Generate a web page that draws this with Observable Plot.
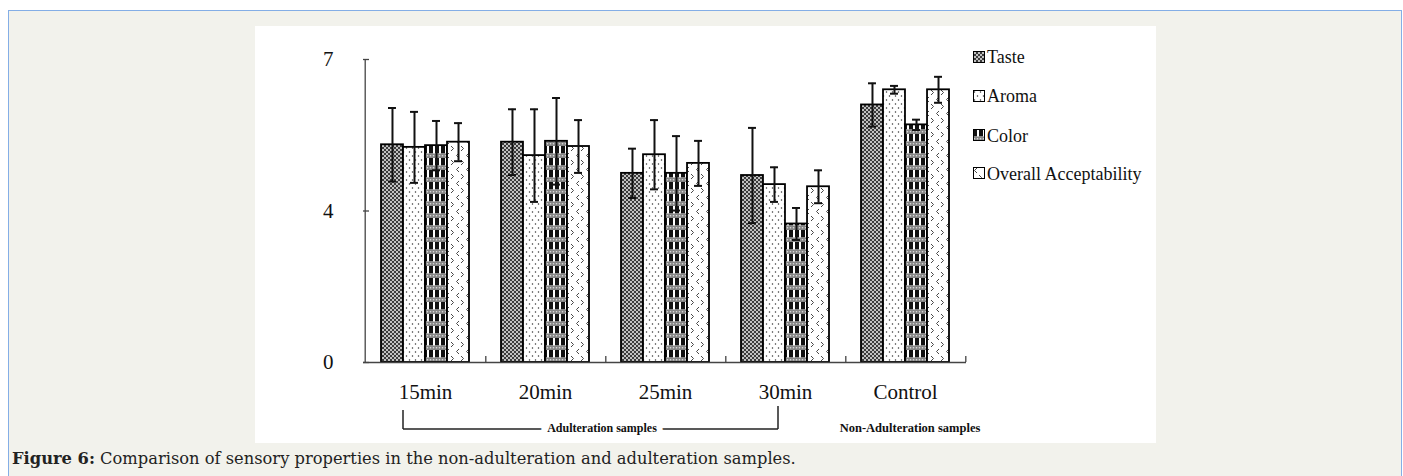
<!DOCTYPE html>
<html><head><meta charset="utf-8">
<script src="https://cdn.jsdelivr.net/npm/d3@7"></script>
<script src="https://cdn.jsdelivr.net/npm/@observablehq/plot@0.6"></script>
<style>
html,body{margin:0;padding:0;background:#fff;width:1403px;height:476px;overflow:hidden;}
#page{position:absolute;left:8px;top:10px;width:1392px;height:480px;background:#f2f2ec;border:1px solid #84aee6;border-bottom:none;}
#chart{position:absolute;left:255px;top:26px;width:901px;height:417px;background:#fff;}
#chart svg{display:block;}
#chart svg text{font-family:"Liberation Serif","Times New Roman",Times,serif;}
.leg{position:absolute;left:973px;font-family:"Liberation Serif","Times New Roman",Times,serif;font-size:18px;color:#111;line-height:20px;white-space:nowrap;}
.leg svg{vertical-align:middle;margin-right:2px;position:relative;top:-2px;}
#anno{position:absolute;left:0;top:0;}
#caption{position:absolute;left:12px;top:450px;font-family:"DejaVu Serif",serif;font-size:16.3px;color:#222;white-space:nowrap;line-height:18px;}
</style></head>
<body>
<div id="page"></div>
<svg width="0" height="0" style="position:absolute">
  <defs>
    <pattern id="pTaste" width="4" height="4" patternUnits="userSpaceOnUse">
      <rect width="4" height="4" fill="#202020"/>
      <circle cx="2" cy="2" r="1.2" fill="#c4c4c4"/>
      <circle cx="0" cy="0" r="1.2" fill="#c4c4c4"/><circle cx="4" cy="0" r="1.2" fill="#c4c4c4"/>
      <circle cx="0" cy="4" r="1.2" fill="#c4c4c4"/><circle cx="4" cy="4" r="1.2" fill="#c4c4c4"/>
    </pattern>
    <pattern id="pAroma" width="6" height="8" patternUnits="userSpaceOnUse">
      <rect width="6" height="8" fill="#fff"/>
      <circle cx="1.5" cy="2" r="0.75" fill="#333"/>
      <circle cx="4.5" cy="6" r="0.75" fill="#333"/>
    </pattern>
    <pattern id="pColor" width="6" height="12" patternUnits="userSpaceOnUse">
      <rect width="6" height="12" fill="#fff"/>
      <rect x="0" y="0" width="4" height="7.5" fill="#111"/>
      <rect x="0" y="7.5" width="6" height="4.5" fill="#858585"/>
      <circle cx="1.5" cy="9.75" r="0.8" fill="#ddd"/>
      <circle cx="4.5" cy="9.75" r="0.8" fill="#ddd"/>
    </pattern>
    <pattern id="pOverall" width="10" height="14" patternUnits="userSpaceOnUse">
      <rect width="10" height="14" fill="#fff"/>
      <path d="M4,1 L1.5,3.5 L4,6" stroke="#333" stroke-width="0.9" fill="none"/>
      <path d="M6,8 L8.5,10.5 L6,13" stroke="#333" stroke-width="0.9" fill="none"/>
    </pattern>
  </defs>
</svg>
<div id="chart"></div>
<div id="legend"></div>
<svg id="anno" width="1403" height="476">
  <line x1="403" y1="410" x2="403" y2="429" stroke="#222" stroke-width="1.5"/>
  <line x1="778" y1="406" x2="778" y2="429" stroke="#222" stroke-width="1.5"/>
  <line x1="403" y1="429" x2="778" y2="429" stroke="#222" stroke-width="1.5"/>
  <text x="602" y="432" text-anchor="middle" font-family="Liberation Serif" font-weight="bold" font-size="12" fill="#111" stroke="#fff" stroke-width="12" paint-order="stroke">Adulteration samples</text>
  <text x="910" y="432" text-anchor="middle" font-family="Liberation Serif" font-weight="bold" font-size="12.5" fill="#111">Non-Adulteration samples</text>
</svg>
<div id="caption"><b>Figure 6:</b> Comparison of sensory properties in the non-adulteration and adulteration samples.</div>
<script>
// ---- data ----
const categories = ["15min", "20min", "25min", "30min", "Control"];
const series = ["Taste", "Aroma", "Color", "Overall Acceptability"];
const taste      = [5.03, 5.09, 4.37, 4.32, 5.95];
const tasteErr   = [0.85, 0.76, 0.57, 1.10, 0.50];
const aroma      = [4.97, 4.78, 4.80, 4.11, 6.30];
const aromaErr   = [0.82, 1.07, 0.80, 0.40, 0.09];
const color      = [5.01, 5.11, 4.37, 3.20, 5.49];
const colorErr   = [0.57, 1.00, 0.86, 0.37, 0.12];
const overall    = [5.09, 4.99, 4.60, 4.06, 6.30];
const overallErr = [0.44, 0.61, 0.52, 0.38, 0.30];
const yTicks = [0, 3.5, 7];
const yTickLabels = ["0", "4", "7"];

const values = [taste, aroma, color, overall];
const errors = [tasteErr, aromaErr, colorErr, overallErr];
const fills = ["url(#pTaste)", "url(#pAroma)", "url(#pColor)", "url(#pOverall)"];

const rows = [];
series.forEach((s, k) => categories.forEach((c, i) => rows.push({cat: c, series: s, k, value: values[k][i], err: errors[k][i]})));

// ---- layout ----
const W = 901, H = 417, mL = 108, mR = 190, mT = 33, mB = 81;
const plotW = W - mL - mR, plotH = H - mT - mB;
const pInner = 0.27, pOuter = 0.135;
const step = plotW / (categories.length - pInner + 2 * pOuter);
const bandW = step * (1 - pInner);
const barW = bandW / series.length;
const capW = 8;

const marks = [];
series.forEach((s, k) => {
  marks.push(Plot.barY(rows.filter(d => d.k === k), {
    x: "cat", y: "value", fill: fills[k], stroke: "#000", strokeWidth: 1.8,
    insetLeft: k * barW, insetRight: (series.length - 1 - k) * barW
  }));
});
series.forEach((s, k) => {
  const data = rows.filter(d => d.k === k);
  const cL = k * barW + (barW - capW) / 2, cR = (series.length - 1 - k) * barW + (barW - capW) / 2;
  marks.push(Plot.ruleX(data, {x: "cat", y1: d => d.value - d.err, y2: d => d.value + d.err,
    dx: (k + 0.5) * barW - bandW / 2, stroke: "#111", strokeWidth: 2}));
  marks.push(Plot.tickY(data, {x: "cat", y: d => d.value + d.err, insetLeft: cL, insetRight: cR, stroke: "#111", strokeWidth: 2}));
  marks.push(Plot.tickY(data, {x: "cat", y: d => d.value - d.err, insetLeft: cL, insetRight: cR, stroke: "#111", strokeWidth: 2}));
});
// axes
marks.push(Plot.ruleY([0], {stroke: "#444", strokeWidth: 1.3}));
marks.push(Plot.tickX([categories[0]], {x: d => d, dx: -step / 2, stroke: "#444", strokeWidth: 1.3}));
marks.push(Plot.tickY(yTicks, {y: d => d, insetRight: plotW - 6, stroke: "#444", strokeWidth: 1.3}));
marks.push(Plot.tickX(categories, {x: d => d, dx: step / 2, insetTop: plotH - 6, stroke: "#444", strokeWidth: 1.3}));
marks.push(Plot.axisY({ticks: yTicks, tickFormat: d => yTickLabels[yTicks.indexOf(d)], tickSize: 0, tickPadding: 30, fontSize: 21, fill: "#111"}));
marks.push(Plot.axisX({tickSize: 0, tickPadding: 22, fontSize: 21, fill: "#111"}));

const chart = Plot.plot({
  width: W, height: H,
  marginLeft: mL, marginRight: mR, marginTop: mT, marginBottom: mB,
  style: {background: "#fff", fontFamily: "'Liberation Serif', 'Times New Roman', serif", color: "#111", overflow: "visible"},
  x: {domain: categories, paddingInner: pInner, paddingOuter: pOuter, label: null},
  y: {domain: [0, 7], label: null},
  marks
});
document.getElementById("chart").appendChild(chart);

// ---- legend ----
const legendY = [57, 96, 135.5, 173.5];
const legend = document.getElementById("legend");
series.forEach((s, k) => {
  const div = document.createElement("div");
  div.className = "leg";
  div.style.top = (legendY[k] - 10) + "px";
  div.innerHTML = `<svg width="12" height="12"><rect x="0.5" y="0.5" width="11" height="11" fill="${fills[k]}" stroke="#000" stroke-width="1"/></svg>${s}`;
  legend.appendChild(div);
});
</script>
</body></html>
